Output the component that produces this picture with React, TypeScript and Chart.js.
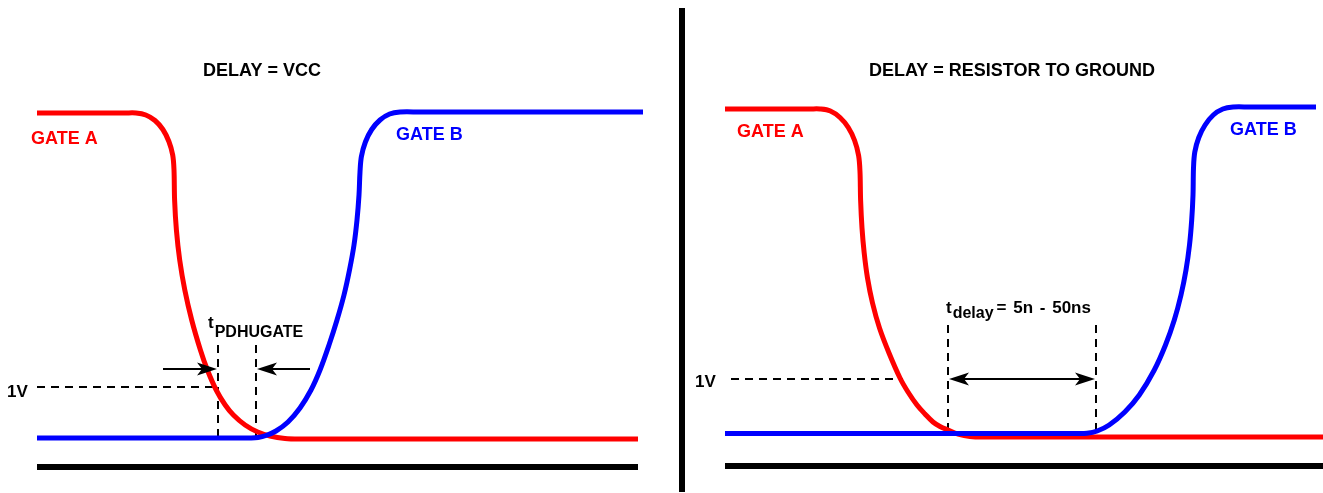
import { useEffect, useRef } from "react";
import { Chart, registerables } from "chart.js";

Chart.register(...registerables);

const RED = "#ff0000";
const BLUE = "#0000ff";
const BLACK = "#000000";
const FONT = "'Liberation Sans', Arial, Helvetica, sans-serif";

// x: time (arbitrary units), y: volts
const leftGateA: [number, number][] = [
  [3.7, 6.5], [12.5, 6.5], [13.6, 6.5], [14.58, 6.46], [15.5, 6.35], [16.29, 6.17], [16.89, 5.93],
  [17.27, 5.66], [17.4, 5.36], [17.46, 4.76], [17.64, 4.16], [17.97, 3.56], [18.48, 2.96],
  [19.17, 2.36], [20.04, 1.76], [20.74, 1.36], [21.62, 0.96], [22.52, 0.66], [23.34, 0.46],
  [24.51, 0.26], [25.77, 0.12], [27.0, 0.04], [28.5, -0.01], [30.0, -0.02], [63.8, -0.02],
];
const leftGateB: [number, number][] = [
  [3.7, 0], [24.0, 0], [25.0, 0], [25.8, 0.01], [26.6, 0.05], [27.6, 0.14], [28.8, 0.32],
  [30.0, 0.6], [31.1, 0.96], [32.0, 1.36], [32.9, 1.86], [33.7, 2.36], [34.4, 2.86],
  [34.95, 3.36], [35.4, 3.86], [35.7, 4.36], [35.9, 4.86], [36.0, 5.32], [36.14, 5.63],
  [36.54, 5.92], [37.17, 6.17], [38.0, 6.36], [38.96, 6.48], [40.0, 6.52], [42.0, 6.52], [64.3, 6.52],
];
const rightGateA: [number, number][] = [
  [72.5, 6.58], [81.0, 6.58], [82.0, 6.58], [83.04, 6.54], [84.0, 6.41], [84.83, 6.21],
  [85.46, 5.95], [85.86, 5.65], [86.0, 5.32], [86.06, 4.76], [86.2, 4.2], [86.42, 3.7],
  [86.75, 3.2], [87.25, 2.7], [87.95, 2.2], [88.9, 1.7], [90.0, 1.2], [90.8, 0.92], [91.7, 0.66],
  [92.5, 0.48], [93.3, 0.32], [94.0, 0.23], [94.8, 0.16], [95.8, 0.08], [97.0, 0.03],
  [98.5, 0.02], [132.3, 0.02],
];
const rightGateB: [number, number][] = [
  [72.5, 0.09], [104.0, 0.09], [107.5, 0.09], [108.7, 0.095], [109.72, 0.14], [110.92, 0.26],
  [112.48, 0.52], [113.93, 0.86], [115.43, 1.36], [116.55, 1.86], [117.43, 2.36], [118.1, 2.86],
  [118.6, 3.36], [118.95, 3.86], [119.17, 4.36], [119.3, 4.86], [119.35, 5.4], [119.48, 5.72],
  [119.88, 6.01], [120.51, 6.26], [121.33, 6.46], [122.28, 6.58], [123.3, 6.62], [125.0, 6.62],
  [131.6, 6.62],
];
const leftGround: [number, number][] = [[3.7, -0.58], [63.8, -0.58]];
const rightGround: [number, number][] = [[72.5, -0.56], [132.3, -0.56]];
const divider: [number, number][] = [[68.2, 8.6], [68.2, -1.08]];

const leftOneVolt: [number, number][] = [[3.7, 1.02], [21.8, 1.02]];
const leftMarkA: [number, number][] = [[21.8, 1.86], [21.8, 0]];
const leftMarkB: [number, number][] = [[25.6, 1.86], [25.6, 0]];
const rightOneVolt: [number, number][] = [[73.1, 1.18], [90.3, 1.18]];
const rightMarkA: [number, number][] = [[94.8, 2.26], [94.8, 0.1]];
const rightMarkB: [number, number][] = [[109.6, 2.26], [109.6, 0.1]];

// arrows: [y, xFrom, xTo, bothHeads]
const arrows: [number, number, number, boolean][] = [
  [1.38, 16.3, 21.7, false],
  [1.38, 31.0, 25.7, false],
  [1.18, 94.9, 109.5, true],
];

// labels: text, x, baseline y, colour, align, size
const labels: [string, number, number, string, CanvasTextAlign, number][] = [
  ["DELAY = VCC", 26.2, 7.24, BLACK, "center", 18],
  ["DELAY = RESISTOR TO GROUND", 101.2, 7.24, BLACK, "center", 18],
  ["GATE A", 3.1, 5.89, RED, "left", 18],
  ["GATE B", 39.6, 5.96, BLUE, "left", 18],
  ["GATE A", 73.7, 6.02, RED, "left", 18],
  ["GATE B", 123.0, 6.07, BLUE, "left", 18],
  ["1V", 0.7, 0.82, BLACK, "left", 17],
  ["1V", 69.5, 1.02, BLACK, "left", 17],
];

// subscripted labels: main, sub, rest, x, baseline y, sub baseline y
const subLabels: [string, string, string, number, number, number][] = [
  ["t", "PDHUGATE", "", 20.8, 2.2, 2.02],
  ["t", "delay", "= 5n - 50ns", 94.6, 2.5, 2.4],
];

const toXY = (arr: [number, number][]) => arr.map(([x, y]) => ({ x, y }));

function curve(data: [number, number][], color: string) {
  return {
    data: toXY(data),
    borderColor: color,
    borderWidth: 5,
    showLine: true,
    pointRadius: 0,
    tension: 0.35,
    borderCapStyle: "butt" as const,
    borderJoinStyle: "round" as const,
  };
}
function solid(data: [number, number][], width: number) {
  return {
    data: toXY(data),
    borderColor: BLACK,
    borderWidth: width,
    showLine: true,
    pointRadius: 0,
    tension: 0,
  };
}
function dashed(data: [number, number][]) {
  return {
    data: toXY(data),
    borderColor: BLACK,
    borderWidth: 2,
    borderDash: [8, 6],
    showLine: true,
    pointRadius: 0,
    tension: 0,
  };
}

function drawHead(ctx: CanvasRenderingContext2D, tx: number, ty: number, dir: number) {
  const len = 20;
  const hw = 6.5;
  const notch = 5;
  ctx.beginPath();
  ctx.moveTo(tx, ty);
  ctx.lineTo(tx - dir * len, ty - hw);
  ctx.lineTo(tx - dir * (len - notch), ty);
  ctx.lineTo(tx - dir * len, ty + hw);
  ctx.closePath();
  ctx.fill();
}

const annotate = {
  id: "annotate",
  afterDatasetsDraw(chart: any) {
    const ctx: CanvasRenderingContext2D = chart.ctx;
    const xs = chart.scales.x;
    const ys = chart.scales.y;
    ctx.save();
    ctx.strokeStyle = BLACK;
    ctx.fillStyle = BLACK;
    ctx.lineWidth = 2;
    ctx.setLineDash([]);
    for (const [y, x1, x2, both] of arrows) {
      const py = ys.getPixelForValue(y);
      const p1 = xs.getPixelForValue(x1);
      const p2 = xs.getPixelForValue(x2);
      const dir = Math.sign(p2 - p1);
      ctx.beginPath();
      ctx.moveTo(both ? p1 + dir * 10 : p1, py);
      ctx.lineTo(p2 - dir * 10, py);
      ctx.stroke();
      drawHead(ctx, p2, py, dir);
      if (both) drawHead(ctx, p1, py, -dir);
    }
    ctx.textBaseline = "alphabetic";
    for (const [text, x, y, color, align, size] of labels) {
      ctx.font = `bold ${size}px ${FONT}`;
      ctx.fillStyle = color;
      ctx.textAlign = align;
      ctx.fillText(text, xs.getPixelForValue(x), ys.getPixelForValue(y));
    }
    ctx.fillStyle = BLACK;
    ctx.textAlign = "left";
    for (const [main, sub, rest, x, y, sy] of subLabels) {
      let px = xs.getPixelForValue(x);
      ctx.font = `bold 17px ${FONT}`;
      ctx.fillText(main, px, ys.getPixelForValue(y));
      px += ctx.measureText(main).width + 1;
      ctx.font = `bold 16px ${FONT}`;
      ctx.fillText(sub, px, ys.getPixelForValue(sy));
      px += ctx.measureText(sub).width + 3;
      if (rest) {
        ctx.font = `bold 17px ${FONT}`;
        (ctx as any).wordSpacing = "2px";
        ctx.fillText(rest, px, ys.getPixelForValue(y));
        (ctx as any).wordSpacing = "0px";
      }
    }
    ctx.restore();
  },
};

export default function App() {
  const ref = useRef<HTMLCanvasElement | null>(null);
  useEffect(() => {
    document.body.style.margin = "0";
    if (!ref.current) return;
    const chart = new Chart(ref.current, {
      type: "scatter",
      data: {
        datasets: [
          curve(leftGateB, BLUE),
          curve(rightGateB, BLUE),
          curve(leftGateA, RED),
          curve(rightGateA, RED),
          solid(leftGround, 6),
          solid(rightGround, 6),
          solid(divider, 6),
          dashed(leftOneVolt),
          dashed(leftMarkA),
          dashed(leftMarkB),
          dashed(rightOneVolt),
          dashed(rightMarkA),
          dashed(rightMarkB),
        ] as any,
      },
      options: {
        animation: false,
        responsive: true,
        maintainAspectRatio: false,
        layout: { padding: 0 },
        plugins: { legend: { display: false }, tooltip: { enabled: false } },
        events: [],
        scales: {
          x: { type: "linear", min: 0, max: 132.3, display: false },
          y: { type: "linear", min: -1.1, max: 8.76, display: false },
        },
      },
      plugins: [annotate],
    });
    return () => chart.destroy();
  }, []);
  return (
    <div style={{ position: "relative", width: "1323px", height: "493px", background: "#fff" }}>
      <canvas ref={ref} />
    </div>
  );
}
